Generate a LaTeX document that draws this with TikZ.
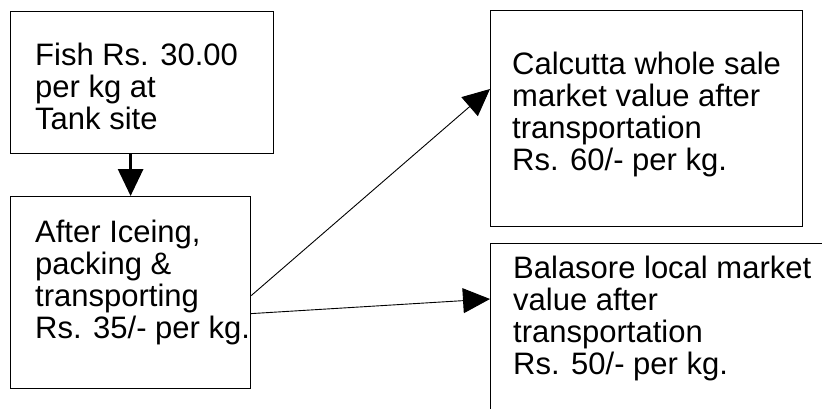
\documentclass[tikz,border=0pt]{standalone}
\usepackage{fontspec}
\setmainfont{Liberation Sans}
\usetikzlibrary{arrows.meta,calc}
\begin{document}
\begin{tikzpicture}[x=1pt,y=1pt,
box/.style={draw,rectangle,line width=1.2pt,inner sep=0pt,anchor=north west},
boxtext/.style={anchor=base west,inner sep=0pt,align=left,font=\fontsize{31}{32.3}\selectfont},
flow/.style={-{Triangle[length=27pt,width=25pt]},line width=0.9pt}]

\clip (0,0) rectangle (822,-408);

\node[box,minimum width=263,minimum height=142] (fish) at (10,-11) {};
\node[box,minimum width=240,minimum height=192] (iced) at (10,-196) {};
\node[box,minimum width=312,minimum height=216] (calcutta) at (490,-10) {};
\node[box,minimum width=350,minimum height=200] (balasore) at (490,-243) {};

% base anchor is the baseline of the last line
\node[boxtext] (fishtext) at ($(fish.north west)+(25,-118.6)$) {Fish Rs. 30.00\\per kg at\\Tank site};
\node[boxtext] (icedtext) at ($(iced.north west)+(25,-142.9)$) {After Iceing,\\packing \&\\transporting\\Rs. 35/- per kg.};
\node[boxtext] (calcuttatext) at ($(calcutta.north west)+(22,-160.9)$) {Calcutta whole sale\\market value after\\transportation\\Rs. 60/- per kg.};
\node[boxtext] (balasoretext) at ($(balasore.north west)+(23,-131.9)$) {Balasore local market\\value after\\transportation\\Rs. 50/- per kg.};

\draw[flow,line width=3pt] (iced.north |- fish.south) -- (iced.north);
\draw[flow] ($(iced.east)+(0,-3)$) -- ($(calcutta.north west)+(0,-79)$);
\draw[flow] ($(iced.east)+(0,-21)$) -- ($(balasore.north west)+(0,-56)$);

\end{tikzpicture}
\end{document}
